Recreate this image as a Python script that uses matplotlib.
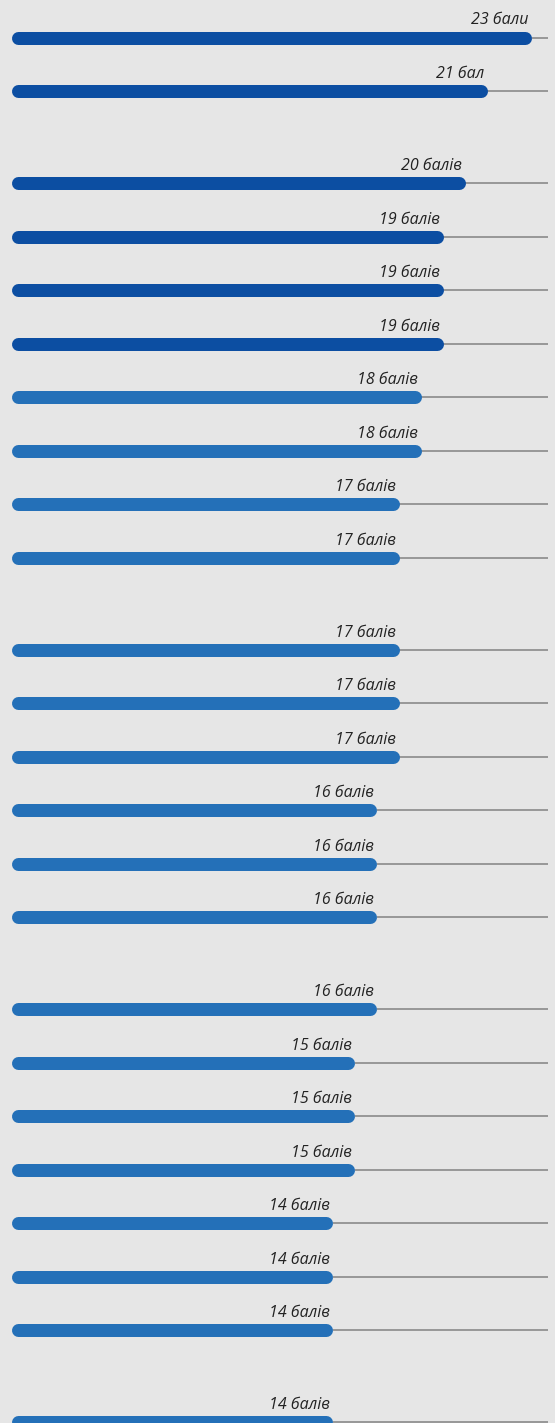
import matplotlib
matplotlib.use("Agg")
from matplotlib import pyplot as plt

# scores, top to bottom
scores = [23, 21,
          20, 19, 19, 19, 18, 18, 17, 17,
          17, 17, 17, 16, 16, 16,
          16, 15, 15, 15, 14, 14, 14,
          14]
labels = ["23 бали", "21 бал"] + ["%d балів" % s for s in scores[2:]]
group_sizes = [2, 8, 6, 7, 1]
n_dark = 6

dark_blue = "#0c4ea2"
light_blue = "#2470b8"
track_grey = "#999999"
bg = "#e6e6e6"

W, H, DPI = 555, 1423, 100
px_per_pt = 22.1        # horizontal pixels per score point
x0_px = 23.3            # pixel position of score 0
row_px = 53.5           # vertical distance between bars
group_gap = 0.72        # extra gap between groups, in rows
top_px = 37.5           # center of first bar
bar_px = 13             # bar thickness
track_end = 23.75       # where the grey track ends (score units)

fig = plt.figure(figsize=(W / DPI, H / DPI), dpi=DPI, facecolor=bg)
ax = fig.add_axes([0, 0, 1, 1])
ax.set_facecolor(bg)
ax.set_xlim(-x0_px / px_per_pt, (W - x0_px) / px_per_pt)
ax.set_ylim((H - top_px) / row_px, -top_px / row_px)
ax.axis("off")

# row positions with gaps between groups
positions = []
g = 0
for size in group_sizes:
    for _ in range(size):
        positions.append(len(positions) + group_gap * g)
    g += 1

lw = bar_px * 72 / DPI
cap = (bar_px / 2) / px_per_pt
start = (11 + bar_px / 2 - x0_px) / px_per_pt

for i, (y, s, lab) in enumerate(zip(positions, scores, labels)):
    color = dark_blue if i < n_dark else light_blue
    ax.plot([s, track_end], [y, y], color=track_grey, lw=2 * 72 / DPI,
            solid_capstyle="butt", zorder=1)
    ax.plot([start, s - cap], [y, y], color=color, lw=lw,
            solid_capstyle="round", zorder=2)
    ax.annotate(lab, xy=(s, y), xytext=(-3, 13), textcoords="offset pixels",
                ha="right", va="baseline", fontsize=11.5, style="italic",
                family="Open Sans", color="#222222")

fig.savefig("out.png", dpi=DPI, facecolor=bg)
